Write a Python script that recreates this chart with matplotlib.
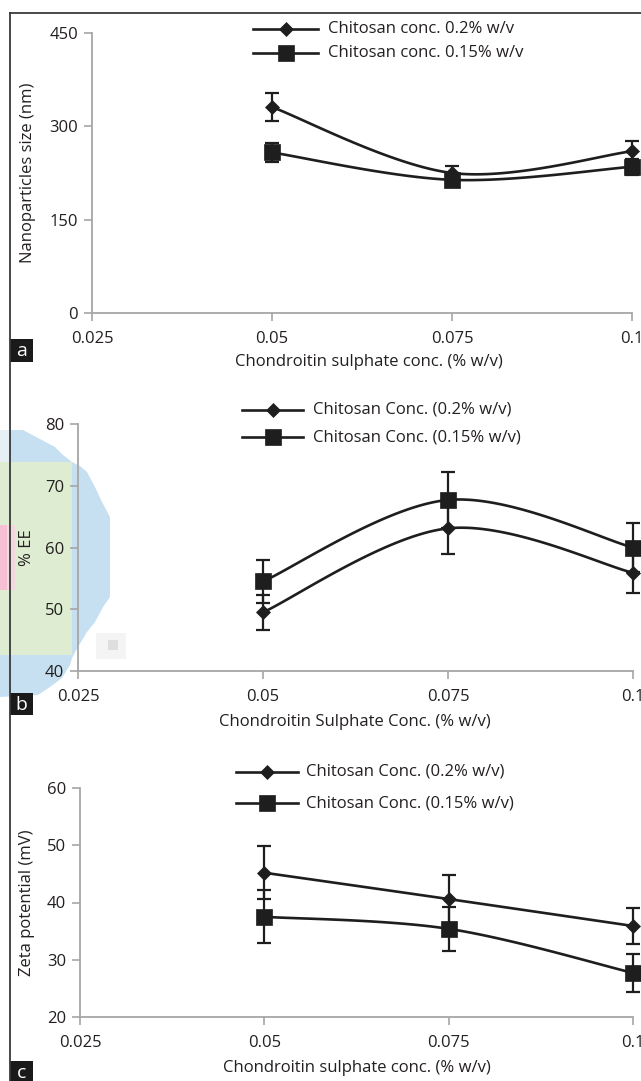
import numpy as np
import matplotlib
matplotlib.use("Agg")
import matplotlib.pyplot as plt
from matplotlib.lines import Line2D
from matplotlib.patches import Rectangle, Polygon
from matplotlib import transforms

# ---------------- data ----------------
x_cs = [0.05, 0.075, 0.1]
x_ticks = [0.025, 0.05, 0.075, 0.1]
x_ticklabels = ["0.025", "0.05", "0.075", "0.1"]

# panel a: nanoparticle size (nm)
size_02 = [331, 225, 260]
size_02_err = [23, 12, 16]
size_015 = [258, 214, 235]
size_015_err = [16, 11, 13]
size_ticks = [0, 150, 300, 450]

# panel b: % EE
ee_02 = [49.5, 63.1, 55.9]
ee_02_err = [2.8, 4.2, 3.3]
ee_015 = [54.5, 67.7, 60.0]
ee_015_err = [3.5, 4.6, 3.9]
ee_ticks = [40, 50, 60, 70, 80]

# panel c: zeta potential (mV)
zeta_02 = [45.2, 40.6, 35.9]
zeta_02_err = [4.6, 4.2, 3.2]
zeta_015 = [37.5, 35.4, 27.7]
zeta_015_err = [4.6, 3.8, 3.3]
zeta_ticks = [20, 30, 40, 50, 60]

# ---------------- style ----------------
plt.rcParams['font.family'] = ['Open Sans', 'DejaVu Sans']
TXT = '#231f20'
SPINE = '#a6a6a6'
LINE = '#1e1e1e'
FS = 12

W, H = 641, 1081
fig = plt.figure(figsize=(W / 100, H / 100), dpi=100)
pix = transforms.Affine2D().scale(1 / W, -1 / H).translate(0, 1) + fig.transFigure


def add_axes(left, right, top, bottom):
    return fig.add_axes([left / W, 1 - bottom / H, (right - left) / W, (bottom - top) / H])


def smooth(xs, ys, n=40):
    xs = np.asarray(xs, float)
    ys = np.asarray(ys, float)
    P = np.column_stack([xs, ys])
    P = np.vstack([P[0], P, P[-1]])
    out = []
    for i in range(1, len(P) - 2):
        p0, p1, p2, p3 = P[i - 1], P[i], P[i + 1], P[i + 2]
        t = np.linspace(0, 1, n)[:, None]
        pts = 0.5 * ((2 * p1) + (-p0 + p2) * t + (2 * p0 - 5 * p1 + 4 * p2 - p3) * t ** 2
                     + (-p0 + 3 * p1 - 3 * p2 + p3) * t ** 3)
        out.append(pts if i == 1 else pts[1:])
    out = np.vstack(out)
    return out[:, 0], out[:, 1]


def panel(ax, s1, e1, s2, e2, yticks, ylim):
    for ys, es, mk, ms in [(s1, e1, 'D', 7.0), (s2, e2, 's', 11.5)]:
        ax.errorbar(x_cs, ys, yerr=es, fmt='none', ecolor=LINE, elinewidth=1.6,
                    capsize=5.2, capthick=1.6, clip_on=False, zorder=3)
        sx, sy = smooth(x_cs, ys)
        ax.plot(sx, sy, color=LINE, lw=1.9, clip_on=False, zorder=4, solid_capstyle='butt')
        ax.plot(x_cs, ys, linestyle='none', marker=mk, ms=ms, color=LINE,
                mec=LINE, mew=0.5, clip_on=False, zorder=5)
    ax.set_xlim(0.025, 0.1)
    ax.set_ylim(*ylim)
    ax.set_xticks(x_ticks)
    ax.set_xticklabels(x_ticklabels)
    ax.set_yticks(yticks)
    ax.set_yticklabels([str(v) for v in yticks])
    for s in ['top', 'right']:
        ax.spines[s].set_visible(False)
    for s in ['left', 'bottom']:
        ax.spines[s].set_color(SPINE)
        ax.spines[s].set_linewidth(1.3)
    ax.tick_params(axis='both', direction='out', length=6, width=1.2, color=SPINE,
                   labelsize=FS, labelcolor=TXT)
    ax.tick_params(axis='x', pad=7)
    ax.tick_params(axis='y', pad=4)
    ax.patch.set_alpha(0)


def legend(x0, x1, xt, y1, y2, lab1, lab2):
    xm = (x0 + x1) / 2
    for y, mk, ms, lab in [(y1, 'D', 7.0, lab1), (y2, 's', 11.5, lab2)]:
        fig.add_artist(Line2D([x0, xm, x1], [y, y, y], transform=pix, color=LINE, lw=1.9,
                              marker=mk, ms=ms, markevery=[1], mec=LINE, mew=0.5))
        fig.text(xt, y, lab, transform=pix, fontsize=FS, color=TXT, ha='left', va='center')


def tag(y0, y1, letter):
    fig.add_artist(Rectangle((10, y0), 23, y1 - y0, transform=pix, facecolor='#1a1a1a',
                             edgecolor='none'))
    fig.text(21.5, (y0 + y1) / 2 + 1, letter, transform=pix, color='white', fontsize=14,
             ha='center', va='center')


# ---- background artifact in panel b (coloured blur at left edge) ----
blue = [(0, 430), (23, 430), (38, 438), (55, 447), (63, 455), (72, 462), (80, 466), (87, 472),
        (95, 487), (102, 502), (110, 517), (110, 597), (103, 607), (95, 622), (87, 632),
        (78, 647), (72, 658), (70, 665), (62, 678), (50, 687), (38, 695), (0, 697)]
fig.add_artist(Polygon(blue, closed=True, transform=pix, facecolor='#c6e0f1',
                       edgecolor='none', zorder=0))
fig.add_artist(Rectangle((0, 462), 72, 193, transform=pix, facecolor='#deedd2',
                         edgecolor='none', zorder=0))
fig.add_artist(Rectangle((0, 430), 10, 32, transform=pix, facecolor='#e6eff3',
                         edgecolor='none', zorder=0))
fig.add_artist(Rectangle((0, 525), 15, 65, transform=pix, facecolor='#f3d9df',
                         edgecolor='none', zorder=0))
fig.add_artist(Rectangle((0, 525), 7, 65, transform=pix, facecolor='#f5bfd4',
                         edgecolor='none', zorder=0))
fig.add_artist(Rectangle((96, 633), 30, 26, transform=pix, facecolor='#f4f4f4',
                         edgecolor='none', zorder=0))
fig.add_artist(Rectangle((108, 640), 10, 10, transform=pix, facecolor='#dedede',
                         edgecolor='none', zorder=0))

# ---- frame ----
fig.add_artist(Line2D([10, 10], [13, 1081], transform=pix, color='#3a3a3a', lw=1.3))
fig.add_artist(Line2D([10, 641], [13, 13], transform=pix, color='#3a3a3a', lw=1.3))

# ---------------- panel a ----------------
axa = add_axes(92, 632, 33, 313)
panel(axa, size_02, size_02_err, size_015, size_015_err, size_ticks, (0, 450))
fig.text(369, 362, "Chondroitin sulphate conc. (% w/v)", transform=pix, fontsize=FS,
         color=TXT, ha='center', va='center')
fig.text(28, 173, "Nanoparticles size (nm)", transform=pix, fontsize=FS, color=TXT,
         ha='center', va='center', rotation=90)
legend(253, 318, 328, 29, 53, "Chitosan conc. 0.2% w/v", "Chitosan conc. 0.15% w/v")
tag(339, 362, 'a')

# ---------------- panel b ----------------
axb = add_axes(78, 633, 424, 671)
panel(axb, ee_02, ee_02_err, ee_015, ee_015_err, ee_ticks, (40, 80))
fig.text(355, 722, "Chondroitin Sulphate Conc. (% w/v)", transform=pix, fontsize=FS,
         color=TXT, ha='center', va='center')
fig.text(27, 548, "% EE", transform=pix, fontsize=FS, color=TXT,
         ha='center', va='center', rotation=90)
legend(242, 303, 313, 410, 437, "Chitosan Conc. (0.2% w/v)", "Chitosan Conc. (0.15% w/v)")
tag(693, 715, 'b')

# ---------------- panel c ----------------
axc = add_axes(80, 633, 788, 1017)
panel(axc, zeta_02, zeta_02_err, zeta_015, zeta_015_err, zeta_ticks, (20, 60))
fig.text(357, 1068, "Chondroitin sulphate conc. (% w/v)", transform=pix, fontsize=FS,
         color=TXT, ha='center', va='center')
fig.text(27, 903, "Zeta potential (mV)", transform=pix, fontsize=FS, color=TXT,
         ha='center', va='center', rotation=90)
legend(236, 298, 306, 772, 803, "Chitosan Conc. (0.2% w/v)", "Chitosan Conc. (0.15% w/v)")
tag(1061, 1084, 'c')

fig.savefig("out.png", dpi=100)
